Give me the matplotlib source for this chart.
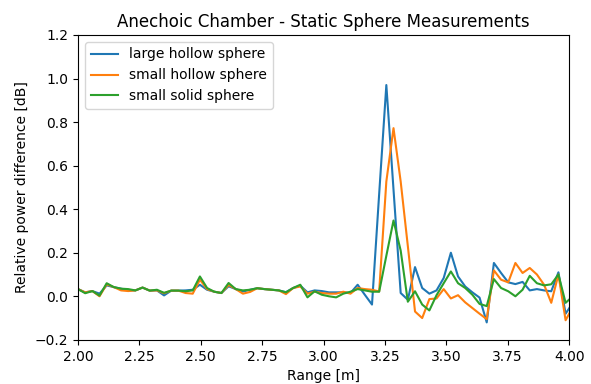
import numpy as np
import matplotlib
matplotlib.use("Agg")
import matplotlib.pyplot as plt

# Range bins (m)
range_start = 2.0
range_step = 0.0292
n_bins = 70

large_hollow = [
    0.033, 0.018, 0.024, 0.012, 0.050, 0.042, 0.035, 0.027, 0.027, 0.040,
    0.026, 0.027, 0.004, 0.026, 0.026, 0.027, 0.030, 0.053, 0.030, 0.021,
    0.015, 0.046, 0.033, 0.022, 0.030, 0.037, 0.033, 0.030, 0.027, 0.019,
    0.038, 0.049, 0.018, 0.027, 0.024, 0.018, 0.018, 0.018, 0.015, 0.053,
    0.007, -0.038, 0.470, 0.970, 0.490, 0.015, -0.016, 0.134, 0.038, 0.012,
    0.027, 0.084, 0.200, 0.091, 0.045, 0.018, -0.006, -0.120, 0.153, 0.107,
    0.064, 0.056, 0.066, 0.027, 0.033, 0.027, 0.023, 0.110, -0.080, -0.030,
]

small_hollow = [
    0.033, 0.018, 0.024, 0.000, 0.055, 0.042, 0.027, 0.024, 0.027, 0.040,
    0.026, 0.027, 0.014, 0.026, 0.026, 0.015, 0.012, 0.076, 0.033, 0.021,
    0.015, 0.052, 0.033, 0.012, 0.020, 0.037, 0.033, 0.030, 0.027, 0.010,
    0.038, 0.045, 0.012, 0.021, 0.015, 0.012, 0.012, 0.021, 0.012, 0.038,
    0.033, 0.030, 0.022, 0.527, 0.772, 0.527, 0.230, -0.070, -0.100, -0.013,
    -0.010, 0.033, -0.010, 0.005, -0.028, -0.054, -0.080, -0.105, 0.119, 0.076,
    0.064, 0.153, 0.107, 0.130, 0.100, 0.053, -0.030, 0.100, -0.110, -0.050,
]

small_solid = [
    0.033, 0.014, 0.024, 0.003, 0.060, 0.042, 0.035, 0.033, 0.027, 0.040,
    0.026, 0.030, 0.016, 0.026, 0.026, 0.023, 0.027, 0.091, 0.038, 0.021,
    0.015, 0.061, 0.033, 0.027, 0.030, 0.037, 0.033, 0.030, 0.027, 0.018,
    0.038, 0.053, -0.005, 0.023, 0.007, 0.000, -0.005, 0.012, 0.021, 0.033,
    0.027, 0.021, 0.021, 0.186, 0.348, 0.210, -0.025, 0.023, -0.038, -0.065,
    0.005, 0.060, 0.114, 0.060, 0.038, 0.007, -0.035, -0.045, 0.079, 0.038,
    0.023, 0.000, 0.030, 0.094, 0.060, 0.050, 0.055, 0.100, -0.030, 0.000,
]

series_labels = ["large hollow sphere", "small hollow sphere", "small solid sphere"]

rng = range_start + range_step * np.arange(n_bins)

fig, ax = plt.subplots(figsize=(5.91, 3.84), dpi=100)
fig.subplots_adjust(left=0.132, right=0.963, top=0.909, bottom=0.115)

for values, label in zip([large_hollow, small_hollow, small_solid], series_labels):
    ax.plot(rng, values, label=label, linewidth=1.5)

ax.set_xlim(2.0, 4.0)
ax.set_ylim(-0.2, 1.2)
ax.set_xticks(np.arange(2.0, 4.01, 0.25))
ax.set_yticks(np.arange(-0.2, 1.21, 0.2))
ax.set_title("Anechoic Chamber - Static Sphere Measurements")
ax.set_xlabel("Range [m]")
ax.set_ylabel("Relative power difference [dB]")
ax.legend(loc="upper left")

fig.savefig("out.png", dpi=100)
